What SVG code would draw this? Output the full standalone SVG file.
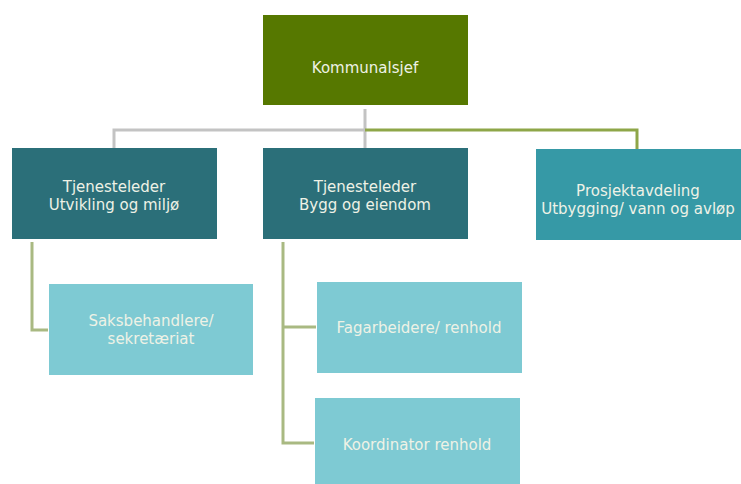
<svg xmlns="http://www.w3.org/2000/svg" width="741" height="484" viewBox="0 0 741 484">
<style>
.t{font-family:"DejaVu Sans","Liberation Sans",sans-serif;font-size:15px;fill:#eef2e6;text-anchor:middle}
.dark{fill:#2b6f79}
.mid{fill:#3699a6}
.light{fill:#7ecad3}
.top{fill:#567800}
.c{fill:none;stroke-width:3}
</style>
<rect width="741" height="484" fill="#ffffff"/>
<g id="connectors">
<path class="c" stroke="#c3c3c3" d="M365,109 V149 M365,130 H114 V149"/>
<path class="c" stroke="#8ea648" d="M365,130 H637 V150"/>
<path class="c" stroke="#a9b982" d="M32,242 V330 H48"/>
<path class="c" stroke="#a9b982" d="M283,242 V443 H314 M283,327 H316"/>
</g>
<g id="kommunalsjef">
<rect class="top" x="263" y="15" width="205" height="90"/>
<text class="t" x="365" y="73">Kommunalsjef</text>
</g>
<g id="tjenesteleder-utvikling">
<rect class="dark" x="12" y="148" width="205" height="91"/>
<text class="t" x="114" y="192">Tjenesteleder</text>
<text class="t" x="114" y="210">Utvikling og miljø</text>
</g>
<g id="tjenesteleder-bygg">
<rect class="dark" x="263" y="148" width="205" height="91"/>
<text class="t" x="365" y="192">Tjenesteleder</text>
<text class="t" x="365" y="210">Bygg og eiendom</text>
</g>
<g id="prosjektavdeling">
<rect class="mid" x="536" y="149" width="210" height="91"/>
<text class="t" x="638" y="196">Prosjektavdeling</text>
<text class="t" x="638" y="214">Utbygging/ vann og avløp</text>
</g>
<g id="saksbehandlere">
<rect class="light" x="49" y="284" width="204" height="91"/>
<text class="t" x="151" y="326">Saksbehandlere/</text>
<text class="t" x="151" y="344">sekretæriat</text>
</g>
<g id="fagarbeidere">
<rect class="light" x="317" y="282" width="205" height="91"/>
<text class="t" x="419" y="333">Fagarbeidere/ renhold</text>
</g>
<g id="koordinator">
<rect class="light" x="315" y="398" width="205" height="90"/>
<text class="t" x="417" y="450">Koordinator renhold</text>
</g>
</svg>
